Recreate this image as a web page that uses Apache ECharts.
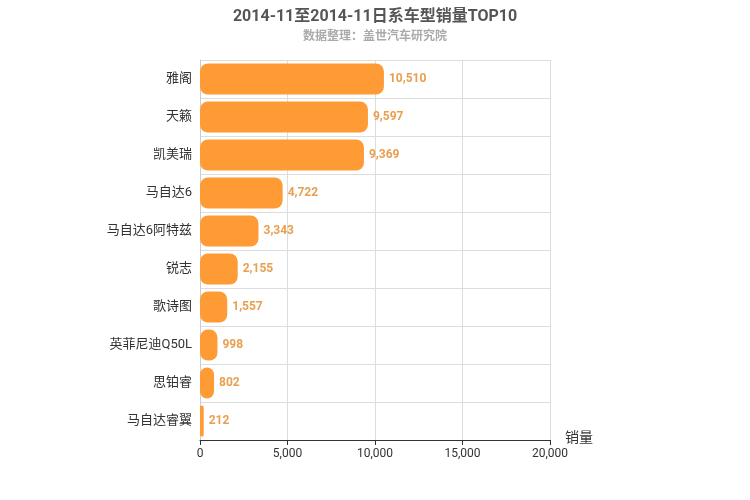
<!DOCTYPE html>
<html>
<head>
<meta charset="utf-8">
<script src="https://cdn.jsdelivr.net/npm/echarts@6/dist/echarts.min.js"></script>
<style>html,body{margin:0;padding:0;background:#fff}#main{width:750px;height:500px}</style>
</head>
<body>
<div id="main"></div>
<script>
// 车型和销量
const models = ['雅阁', '天籁', '凯美瑞', '马自达6', '马自达6阿特兹', '锐志', '歌诗图', '英菲尼迪Q50L', '思铂睿', '马自达睿翼'];
const sales = [10510, 9597, 9369, 4722, 3343, 2155, 1557, 998, 802, 212];
const xTicks = [0, 5000, 10000, 15000, 20000];

const myChart = echarts.init(document.getElementById('main'));
myChart.setOption({
  textStyle: { fontFamily: 'Roboto, "Noto Sans CJK SC", sans-serif' },
  title: {
    text: '2014-11至2014-11日系车型销量TOP10',
    subtext: '数据整理：盖世汽车研究院',
    left: 'center',
    top: 4,
    itemGap: 6,
    textStyle: { fontSize: 16, fontWeight: 'bold', color: '#555' },
    subtextStyle: { fontSize: 12, fontWeight: 'bold', color: '#aaa' }
  },
  grid: { left: 200, right: 200, top: 60, bottom: 60 },
  xAxis: {
    type: 'value',
    min: xTicks[0],
    max: xTicks[xTicks.length - 1],
    interval: 5000,
    name: '销量',
    nameGap: 15,
    nameTextStyle: { fontSize: 14, color: '#333', verticalAlign: 'top', padding: [-8, 0, 0, 0] },
    axisLine: { show: true, lineStyle: { color: '#333' } },
    axisTick: { show: true },
    axisLabel: { color: '#333', fontSize: 12 },
    splitLine: { lineStyle: { color: '#ddd' } }
  },
  yAxis: {
    type: 'category',
    data: models,
    inverse: true,
    axisLine: { show: true, lineStyle: { color: '#ccc' } },
    axisTick: { show: false },
    axisLabel: { color: '#333', fontSize: 13 },
    splitLine: { show: true, lineStyle: { color: '#ddd' } }
  },
  series: [{
    type: 'bar',
    data: sales,
    barWidth: 31,
    itemStyle: { color: '#ff9b35', borderRadius: 8 },
    label: {
      show: true,
      position: 'right',
      color: '#e8a050',
      fontWeight: 'bold',
      fontSize: 12,
      formatter: p => p.value.toLocaleString('en-US')
    }
  }]
});
</script>
</body>
</html>
